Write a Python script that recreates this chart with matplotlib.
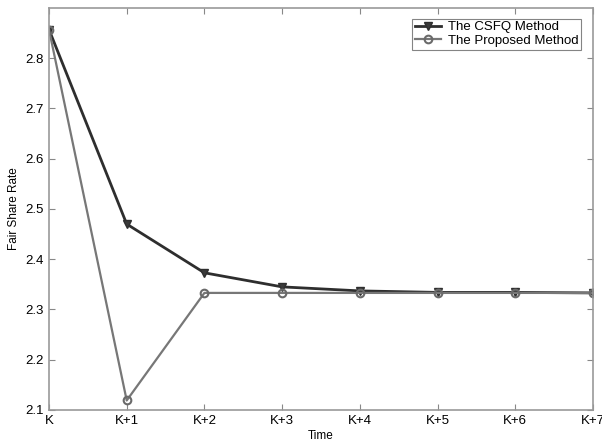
import matplotlib.pyplot as plt
import numpy as np

# data
time_labels = ["K", "K+1", "K+2", "K+3", "K+4", "K+5", "K+6", "K+7"]
csfq = [2.857, 2.470, 2.373, 2.345, 2.337, 2.334, 2.334, 2.333]
proposed = [2.857, 2.119, 2.333, 2.333, 2.333, 2.333, 2.333, 2.333]

plt.rcParams['font.family'] = ['Liberation Sans', 'DejaVu Sans']

fig = plt.figure(figsize=(6.02, 4.41), dpi=100)
ax = fig.add_axes([0.0814, 0.0703, 0.9036, 0.9116])

x = np.arange(len(time_labels))
ax.plot(x, csfq, color="#2e2e2e", lw=2, marker="v", ms=6,
        mfc="#3a3a3a", mec="#2e2e2e", label="The CSFQ Method")
ax.plot(x, proposed, color="#777777", lw=1.6, marker="o", ms=5.5,
        mfc="none", mec="#6a6a6a", mew=1.5, label="The Proposed Method")

ax.set_xlim(0, 7)
ax.set_ylim(2.1, 2.9)
ax.set_xticks(x)
ax.set_xticklabels(time_labels)
ax.set_yticks(np.round(np.arange(2.1, 2.81, 0.1), 1))
ax.tick_params(direction="in", top=True, right=True, labelsize=9.5,
               color="#888888", length=4)
for s in ax.spines.values():
    s.set_color("#999999")
    s.set_linewidth(1.2)

ax.set_xlabel("Time", fontsize=8.5, labelpad=2)
ax.set_ylabel("Fair Share Rate", fontsize=8.5, labelpad=4)

leg = ax.legend(loc="upper right", fontsize=9.5, frameon=True, fancybox=False,
                handlelength=2, borderpad=0.2, labelspacing=0.1,
                handletextpad=0.5, bbox_to_anchor=(0.99, 0.99))
leg.get_frame().set_edgecolor("#666666")
leg.get_frame().set_linewidth(0.8)

fig.savefig("out.png", dpi=100)
